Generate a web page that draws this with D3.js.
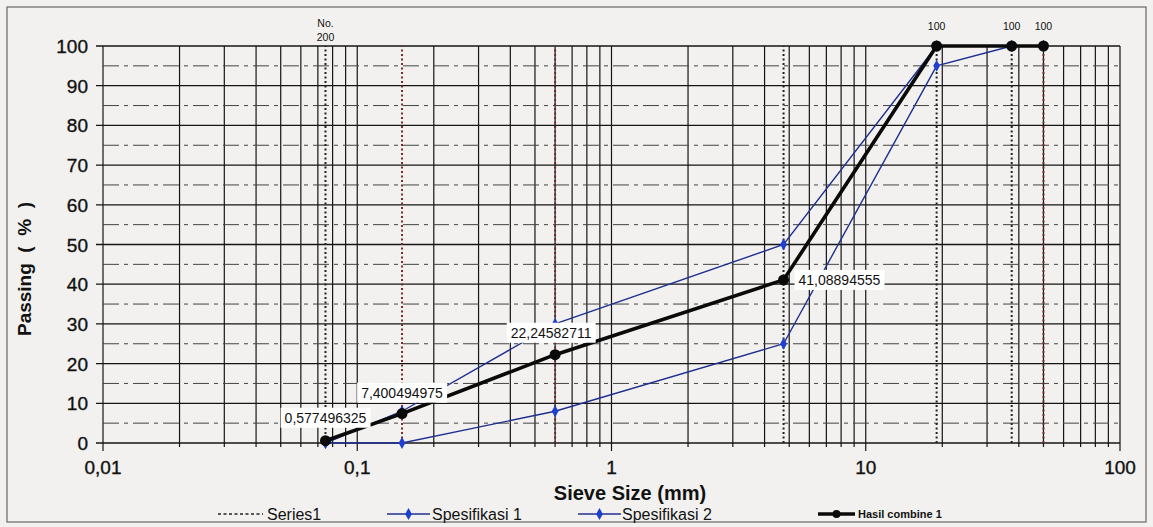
<!DOCTYPE html>
<html><head><meta charset="utf-8">
<script src="https://cdn.jsdelivr.net/npm/d3@7/dist/d3.min.js"></script>
<style>
html,body{margin:0;padding:0;background:#f2f1ef;}
svg{display:block;font-family:"Liberation Sans",Arial,sans-serif;}
</style></head><body>
<svg id="c" width="1153" height="527"></svg>
<script>
// ---- data ----
const sieves = [0.075, 0.15, 0.6, 4.75, 19, 37.5, 50];
const spesifikasi1 = [0, 8, 30, 50, 100, 100, 100];
const spesifikasi2 = [0, 0, 8, 25, 95, 100, 100];
const hasilCombine1 = [0.577496325, 7.400494975, 22.24582711, 41.08894555, 100, 100, 100];
const hasilLabels = ["0,577496325", "7,400494975", "22,24582711", "41,08894555", "100", "100", "100"];
const xTickValues = [0.01, 0.1, 1, 10, 100];
const xTickLabels = ["0,01", "0,1", "1", "10", "100"];
const yTickValues = [0, 10, 20, 30, 40, 50, 60, 70, 80, 90, 100];
const legendNames = ["Series1", "Spesifikasi 1", "Spesifikasi 2", "Hasil combine 1"];

// ---- styles ----
const series1Colors = ["#222", "#7a2a2a", "#6a2a2a", "#222", "#222", "#222", "#7a2a2a"];
const specColor = "#1f2f8f";
const markerColor = "#1f3fd0";

const svg = d3.select("#c");
const x = d3.scaleLog().domain([0.01, 100]).range([103, 1120]);
const y = d3.scaleLinear().domain([0, 100]).range([443, 46]);

// outer frame
svg.append("rect").attr("x", 7).attr("y", 7).attr("width", 1139).attr("height", 515)
  .attr("fill", "#f2f1ef").attr("stroke", "#666").attr("stroke-width", 1.2);

const g = svg.append("g");

// minor vertical grid
const vGrid = [];
for (let e = -2; e <= 1; e++) for (let k = 1; k <= 9; k++) vGrid.push(k * Math.pow(10, e));
vGrid.push(100);
g.selectAll("line.vg").data(vGrid).join("line")
  .attr("x1", d => x(d)).attr("x2", d => x(d))
  .attr("y1", y(100)).attr("y2", d => y(0) + (xTickValues.includes(d) ? 8 : 4))
  .attr("stroke", "#151515").attr("stroke-width", 1.2);

// horizontal grid
const hMinor = d3.range(5, 100, 10);
g.selectAll("line.hm").data(hMinor).join("line")
  .attr("x1", x(0.01)).attr("x2", x(100)).attr("y1", d => y(d)).attr("y2", d => y(d))
  .attr("stroke", "#444").attr("stroke-width", 1).attr("stroke-dasharray", "16,5,4,5");
g.selectAll("line.hg").data(yTickValues).join("line")
  .attr("x1", x(0.01) - 7).attr("x2", x(100)).attr("y1", d => y(d)).attr("y2", d => y(d))
  .attr("stroke", "#151515").attr("stroke-width", 1.3);

// axes labels
g.selectAll("text.yt").data(yTickValues).join("text")
  .attr("x", 88).attr("y", d => y(d) + 7).attr("text-anchor", "end")
  .attr("font-size", 19).attr("fill", "#111").attr("stroke", "#111").attr("stroke-width", 0.35)
  .text(d => d);
g.selectAll("text.xt").data(xTickValues).join("text")
  .attr("x", d => x(d)).attr("y", 474).attr("text-anchor", "middle")
  .attr("font-size", 19).attr("fill", "#111").attr("stroke", "#111").attr("stroke-width", 0.35)
  .text((d, i) => xTickLabels[i]);

svg.append("text").attr("x", 630).attr("y", 500).attr("text-anchor", "middle")
  .attr("font-size", 20).attr("font-weight", "bold").attr("fill", "#111").text("Sieve Size (mm)");
svg.append("text").attr("transform", "translate(31,269) rotate(-90)").attr("text-anchor", "middle")
  .attr("font-size", 19).attr("font-weight", "bold").attr("fill", "#111")
  .attr("xml:space", "preserve").style("white-space", "pre").text("Passing  (  %  )");

// Series1 dotted verticals
g.selectAll("line.s1").data(sieves).join("line")
  .attr("x1", d => x(d)).attr("x2", d => x(d)).attr("y1", y(0)).attr("y2", y(100))
  .attr("stroke", (d, i) => series1Colors[i]).attr("stroke-width", 2)
  .attr("stroke-dasharray", "2,2.5");

// spec lines
const line = d3.line().x(d => x(d[0])).y(d => y(d[1]));
[spesifikasi1, spesifikasi2].forEach(vals => {
  const pts = sieves.map((s, i) => [s, vals[i]]);
  g.append("path").attr("d", line(pts)).attr("fill", "none")
    .attr("stroke", specColor).attr("stroke-width", 1.4);
  g.selectAll(null).data(pts).join("path")
    .attr("transform", d => `translate(${x(d[0])},${y(d[1])})`)
    .attr("d", d3.symbol(d3.symbolDiamond, 40)())
    .attr("fill", markerColor);
});

// hasil combine
const hPts = sieves.map((s, i) => [s, hasilCombine1[i]]);
g.append("path").attr("d", line(hPts)).attr("fill", "none")
  .attr("stroke", "#0a0a0a").attr("stroke-width", 3.6).attr("stroke-linejoin", "round");
g.selectAll("circle.h").data(hPts).join("circle")
  .attr("cx", d => x(d[0])).attr("cy", d => y(d[1])).attr("r", 5.5).attr("fill", "#0a0a0a");

// data labels
const labelOffsets = [[0, -23, "middle"], [0, -21, "middle"], [-4, -22, "middle"], [15, 0, "start"],
                      [0, -20, "middle"], [0, -20, "middle"], [0, -20, "middle"]];
hPts.forEach((d, i) => {
  const [dx, dy, anchor] = labelOffsets[i];
  const big = i < 4;
  const fs = big ? 14 : 10.5;
  const t = g.append("text").attr("x", x(d[0]) + dx).attr("y", y(d[1]) + dy + fs * 0.36)
    .attr("text-anchor", anchor).attr("font-size", fs).attr("fill", "#111").text(hasilLabels[i]);
  if (big) {
    const b = t.node().getBBox();
    g.insert("rect", () => t.node()).attr("x", b.x - 4).attr("y", b.y - 2)
      .attr("width", b.width + 8).attr("height", b.height + 4).attr("fill", "#fff");
  }
});

// No. 200
svg.append("text").attr("x", x(0.075)).attr("y", 27).attr("text-anchor", "middle")
  .attr("font-size", 10.5).attr("fill", "#111").text("No.");
svg.append("text").attr("x", x(0.075)).attr("y", 41).attr("text-anchor", "middle")
  .attr("font-size", 10.5).attr("fill", "#111").text("200");

// legend
const ly = 514;
const leg = svg.append("g");
// Series1
leg.append("line").attr("x1", 218).attr("x2", 263).attr("y1", ly).attr("y2", ly)
  .attr("stroke", "#222").attr("stroke-width", 1.5).attr("stroke-dasharray", "3,2.5");
leg.append("text").attr("x", 267).attr("y", ly + 6).attr("font-size", 16).attr("fill", "#111").text(legendNames[0]);
// Spesifikasi 1 & 2
[[387, 432, legendNames[1]], [578, 622, legendNames[2]]].forEach(([x0, tx, name]) => {
  leg.append("line").attr("x1", x0).attr("x2", x0 + 43).attr("y1", ly).attr("y2", ly)
    .attr("stroke", specColor).attr("stroke-width", 1.5);
  leg.append("path").attr("transform", `translate(${x0 + 21.5},${ly})`)
    .attr("d", d3.symbol(d3.symbolDiamond, 40)()).attr("fill", markerColor);
  leg.append("text").attr("x", tx).attr("y", ly + 6).attr("font-size", 16).attr("fill", "#111").text(name);
});
// Hasil combine 1
leg.append("line").attr("x1", 818).attr("x2", 855).attr("y1", ly).attr("y2", ly)
  .attr("stroke", "#0a0a0a").attr("stroke-width", 3.6);
leg.append("circle").attr("cx", 836.5).attr("cy", ly).attr("r", 4).attr("fill", "#0a0a0a");
leg.append("text").attr("x", 858).attr("y", ly + 4).attr("font-size", 11).attr("font-weight", "bold")
  .attr("fill", "#111").text(legendNames[3]);
</script>
</body></html>
